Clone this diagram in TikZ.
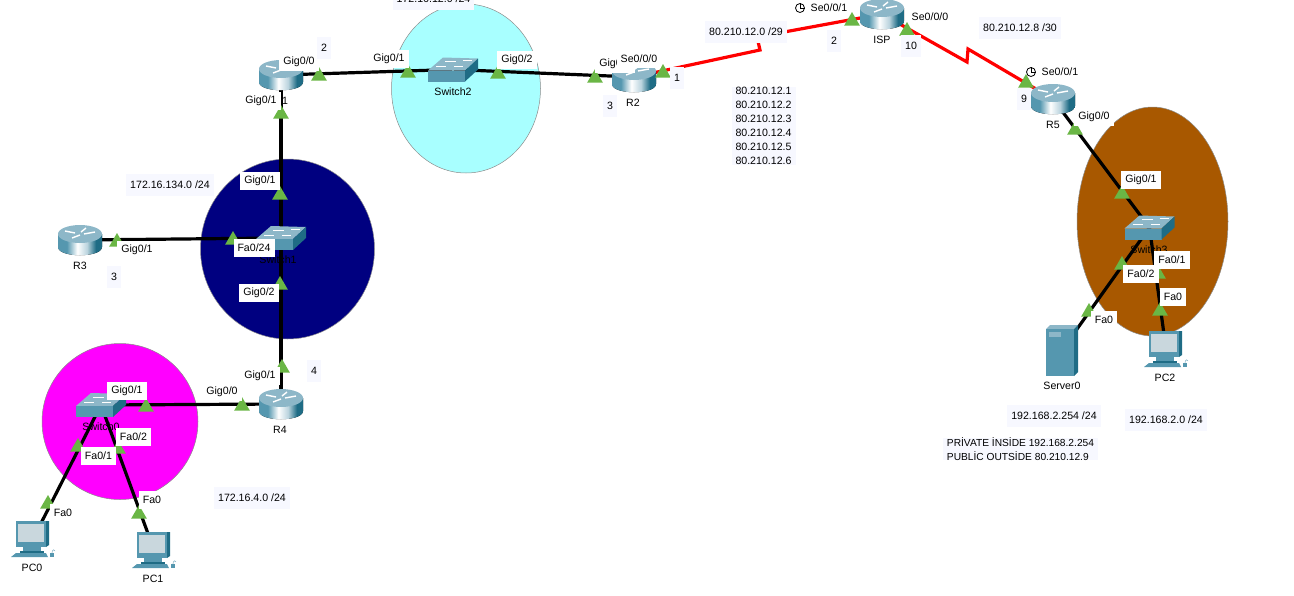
\documentclass[tikz,border=0pt]{standalone}
\usepackage{fontspec}
\setmainfont{Liberation Sans}
\usetikzlibrary{shapes.geometric}
\definecolor{portgreen}{HTML}{6AB645}
\definecolor{infobg}{HTML}{F7F8FF}
\definecolor{topblue}{HTML}{8DB7C8}
\definecolor{midblue}{HTML}{5597AF}
\definecolor{darkblue}{HTML}{1F6C85}
\pgfdeclarehorizontalshading{routerbody}{100bp}{color(0bp)=(midblue); color(35bp)=(midblue); color(47bp)=(white); color(58bp)=(topblue!60); color(68bp)=(darkblue); color(100bp)=(darkblue)}
\begin{document}
\begin{tikzpicture}[x=1pt,y=-1pt,font=\fontsize{10.6}{14}\selectfont,
dev/.style={inner sep=0pt,minimum size=1pt},
net/.style={draw=black!45,line width=0.5pt},
eth/.style={draw=black,line width=3.2pt},
ser/.style={draw=red,line width=3.2pt},
tri/.style={fill=portgreen,regular polygon,regular polygon sides=3,minimum size=18pt,inner sep=0pt,outer sep=0pt},
port/.style={fill=white,inner xsep=4pt,inner ysep=0pt,minimum height=18pt},
bare/.style={inner sep=0pt},
info/.style={fill=infobg,inner xsep=4pt,inner ysep=0pt,minimum height=22pt},
clk/.style={draw=black,circle,line width=0.8pt,minimum size=9pt,inner sep=0pt},
router/.pic={
  \fill[shading=routerbody] (-22,-6) -- (-22,7) .. controls (-22,18) and (22,18) .. (22,7) -- (22,-6) -- cycle;
  \fill[topblue] (0,-6) ellipse [x radius=22pt,y radius=9pt];
  \draw[white,line width=1.4pt] (-15,-9) -- (-5,-7) (6,-12) -- (1,-8) (15,-8) -- (4,-6) (-8,-2) -- (0,-5);
},
switch/.pic={
  \fill[topblue] (-25,1) -- (-10,-12) -- (25,-11) -- (12,1) -- cycle;
  \fill[midblue] (-25,1) rectangle (12,12);
  \fill[darkblue] (12,1) -- (25,-11) -- (25,0) -- (12,12) -- cycle;
  \draw[white,line width=0.7pt] (-8,-8) -- (3,-8) (10,-9) -- (19,-9) (-17,-3) -- (-7,-3) (1,-3) -- (10,-3);
},
pcbox/.pic={
  \fill[midblue] (-17,-18) rectangle (13,8);
  \fill[darkblue] (13,-18) -- (16,-18) -- (16,6) -- (13,8) -- cycle;
  \fill[black!15!topblue!40] (-15,-15) rectangle (11,3);
  \fill[midblue] (-10,8) rectangle (8,12);
  \fill[darkblue] (-13,12) rectangle (11,14);
  \fill[midblue] (-22,18) -- (-17,14) -- (13,14) -- (15,18) -- cycle;
  \fill[midblue] (17,14) rectangle (21,18);
  \draw[topblue,line width=0.6pt] (19,14) .. controls (19,10) and (22,10) .. (22,12);
},
serverbox/.pic={
  \fill[topblue] (-16,-21) -- (-12,-25) -- (16,-25) -- (12,-21) -- cycle;
  \fill[midblue] (-16,-21) rectangle (12,26);
  \fill[darkblue] (12,-21) -- (16,-25) -- (16,22) -- (12,26) -- cycle;
  \fill[topblue] (-13,-18) rectangle (-1,-13);
}]
\useasboundingbox (0,0) rectangle (1294,595);
% networks
\path[net,fill={rgb,255:red,168;green,255;blue,255}] (466,88.5) ellipse [x radius=74.5pt,y radius=84.5pt];
\path[net,fill={rgb,255:red,0;green,0;blue,128}] (287.5,249) ellipse [x radius=87pt,y radius=90pt];
\path[net,fill={rgb,255:red,255;green,0;blue,255}] (120,421.5) ellipse [x radius=78pt,y radius=78pt];
\path[net,fill={rgb,255:red,168;green,88;blue,0}] (1152.5,221.5) ellipse [x radius=75.5pt,y radius=114.5pt];
% devices
\node[dev] (r1) at (281,75) {};
\node[dev] (r2) at (634,77) {};
\node[dev] (r3) at (80,240) {};
\node[dev] (r4) at (281,404) {};
\node[dev] (r5) at (1053,99) {};
\node[dev] (isp) at (882,14) {};
\node[dev] (sw0) at (101,405) {};
\node[dev] (sw1) at (281,238) {};
\node[dev] (sw2) at (453,69.5) {};
\node[dev] (sw3) at (1149.5,227.5) {};
\node[dev] (pc0) at (33,539) {};
\node[dev] (pc1) at (154,550) {};
\node[dev] (pc2) at (1166,349) {};
\node[dev] (srv0) at (1062,350) {};
\coordinate (kinka) at (760,50);
\coordinate (kinkb) at (757,37);
\coordinate (kinkc) at (967,62);
\coordinate (kinkd) at (968,49);
% links
\draw[eth] (r1) -- (sw2);
\draw[eth] (sw2) -- (r2);
\draw[eth] (r1) -- (sw1);
\draw[eth] (sw1) -- (r4);
\draw[eth] (r3) -- (sw1);
\draw[eth] (sw0) -- (r4);
\draw[eth] (sw0) -- (pc0);
\draw[eth] (sw0) -- (pc1);
\draw[eth] (r5) -- (sw3);
\draw[eth] (sw3) -- (srv0);
\draw[eth] (sw3) -- (pc2);
\draw[ser] (r2) -- (kinka) -- (kinkb) -- (isp);
\draw[ser] (isp) -- (kinkc) -- (kinkd) -- (r5);
% icons
\pic at (r1) {router};
\pic at (r2) {router};
\pic at (r3) {router};
\pic at (r4) {router};
\pic at (r5) {router};
\pic at (isp) {router};
\pic at (sw0) {switch};
\pic at (sw1) {switch};
\pic at (sw2) {switch};
\pic at (sw3) {switch};
\pic at (pc0) {pcbox};
\pic at (pc1) {pcbox};
\pic at (pc2) {pcbox};
\pic at (srv0) {serverbox};
% captions under the icons
\node[bare] (capr2) at (633,103) {R2};
\node[bare] (capr3) at (80,266) {R3};
\node[bare] (capr4) at (280,430) {R4};
\node[bare] (capr5) at (1053,125) {R5};
\node[bare] (capisp) at (882,40) {ISP};
\node[bare] (capsw0) at (101,427) {Switch0};
\node[bare] (capsw1) at (278,260) {Switch1};
\node[bare] (capsw2) at (453,92) {Switch2};
\node[bare] (capsw3) at (1149,250) {Switch3};
\node[bare] (cappc0) at (32,568) {PC0};
\node[bare] (cappc1) at (153,579) {PC1};
\node[bare] (cappc2) at (1165,378) {PC2};
\node[bare] (capsrv0) at (1062,386) {Server0};
% port marks
\node[tri] (t1) at (319,76) {};
\node[tri] (t2) at (281,114) {};
\node[tri] (t3) at (280,195) {};
\node[tri] (t4) at (117,242) {};
\node[tri] (t5) at (233,240) {};
\node[tri] (t6) at (280,285) {};
\node[tri] (t7) at (282,368) {};
\node[tri] (t8) at (242,406) {};
\node[tri] (t9) at (146,407) {};
\node[tri] (t10) at (78,447) {};
\node[tri] (t11) at (118,449) {};
\node[tri] (t12) at (48,504) {};
\node[tri] (t13) at (139,514) {};
\node[tri] (t14) at (408,73) {};
\node[tri] (t15) at (498,74) {};
\node[tri] (t16) at (595,78) {};
\node[tri] (t17) at (663,73) {};
\node[tri] (t18) at (852,21) {};
\node[tri] (t19) at (907,31) {};
\node[tri] (t20) at (1026,83) {};
\node[tri] (t21) at (1075,130) {};
\node[tri] (t22) at (1122,194) {};
\node[tri] (t23) at (1122,265) {};
\node[tri] (t24) at (1158,274) {};
\node[tri] (t25) at (1160,311) {};
\node[tri] (t26) at (1089,312) {};
% port names
\node[port] (p1) at (299,62) {Gig0/0};
\node[port] (p2) at (261,101) {Gig0/1};
\node[bare] (p2b) at (285,101) {1};
\node[port] (p3) at (260,181) {Gig0/1};
\node[port] (p4) at (137,250) {Gig0/1};
\node[port] (p5) at (254,248) {Fa0/24};
\node[port] (p6) at (259,293) {Gig0/2};
\node[port] (p7) at (260,376) {Gig0/1};
\node[port] (p8) at (222,392) {Gig0/0};
\node[port] (p9) at (127,391) {Gig0/1};
\node[port] (p10) at (98.5,456) {Fa0/1};
\node[port] (p11) at (133.5,437) {Fa0/2};
\node[port] (p12) at (63,513) {Fa0};
\node[port] (p13) at (152,500) {Fa0};
\node[port] (p14) at (389,59) {Gig0/1};
\node[port] (p15) at (517,60) {Gig0/2};
\node[port] (p16) at (615,64) {Gig0/0};
\node[port] (p17) at (639,59) {Se0/0/0};
\node[bare] (p18) at (829,8) {Se0/0/1};
\node[bare] (p19) at (930,17) {Se0/0/0};
\node[bare] (p20) at (1060,72) {Se0/0/1};
\node[port] (p21) at (1094,117) {Gig0/0};
\node[port] (p22) at (1141,180) {Gig0/1};
\node[port] (p23) at (1172,260) {Fa0/1};
\node[port] (p24) at (1141,274) {Fa0/2};
\node[port] (p25) at (1173,297) {Fa0};
\node[port] (p26) at (1104,320) {Fa0};
% clocks
\node[clk] (clk1) at (800,8) {};
\node[clk] (clk2) at (1031,72) {};
\draw[line width=0.8pt] (clk1.north) -- (clk1.center) -- (clk1.east);
\draw[line width=0.8pt] (clk2.north) -- (clk2.center) -- (clk2.east);
% notes
\node[info] (n1) at (433.5,-1.5) {172.16.12.0 /24};
\node[info] (n2) at (170,185) {172.16.134.0 /24};
\node[info] (n3) at (252,498) {172.16.4.0 /24};
\node[info] (n4) at (746,32) {80.210.12.0 /29};
\node[info] (n5) at (1020,28) {80.210.12.8 /30};
\node[info] (n6) at (1054,416) {192.168.2.254 /24};
\node[info] (n7) at (1166,420) {192.168.2.0 /24};
\node[info,align=center] (n8) at (763.5,126) {80.210.12.1\\80.210.12.2\\80.210.12.3\\80.210.12.4\\80.210.12.5\\80.210.12.6};
\node[info,align=left,font=\fontsize{10.2}{14}\selectfont] (n9) at (1020.5,449) {PRİVATE İNSİDE 192.168.2.254\\PUBLİC OUTSİDE 80.210.12.9};
\node[info] (n10) at (324,48) {2};
\node[info] (n11) at (114,277) {3};
\node[info] (n12) at (314,371) {4};
\node[info] (n13) at (610,106) {3};
\node[info] (n14) at (677,78) {1};
\node[info] (n15) at (834,41) {2};
\node[info] (n16) at (911,46) {10};
\node[info] (n17) at (1024,99) {9};
\end{tikzpicture}
\end{document}
